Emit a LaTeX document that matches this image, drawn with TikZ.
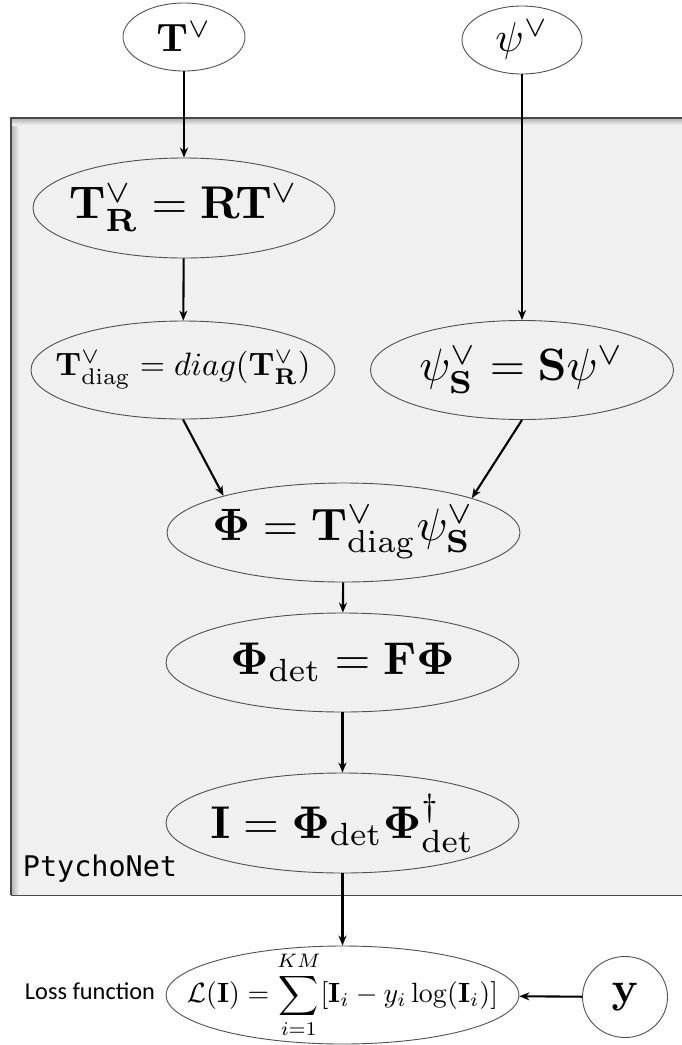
\documentclass[tikz,border=0pt]{standalone}
\usepackage{amsmath}
\usepackage[no-math]{fontspec}
\usepackage{graphicx}
\usetikzlibrary{shapes.geometric,arrows.meta}
\newfontfamily\carl{Carlito}
\newfontfamily\dmono{DejaVu Sans Mono}
\definecolor{boxfill}{HTML}{F0F0F0}
\definecolor{boxedge}{HTML}{484848}
\definecolor{elledge}{HTML}{505050}
\begin{document}
\begin{tikzpicture}[x=1pt,y=-1pt,
  ell/.style={ellipse, draw=elledge, line width=0.9pt, inner sep=0pt},
  arr/.style={-{Stealth[length=10pt,width=8pt]}, line width=2.1pt, black},
  lbl/.style={inner sep=0pt}]
\useasboundingbox (0,0) rectangle (681,1045);
% PtychoNet box
\fill[boxfill] (11,118) rectangle (690,895);
\shade[left color=gray!55, right color=boxfill] (12,119) rectangle (19,895);
\shade[top color=gray!55, bottom color=boxfill] (12,119) rectangle (690,125);
\draw[boxedge, line width=2.5pt] (11,895) -- (11,118) -- (690,118);
\draw[boxedge, line width=1pt] (11,895) -- (690,895);
% nodes
\node[ell, fill=white, minimum width=122, minimum height=68,
  label={[lbl,name=tvl]center:\resizebox{55pt}{!}{$\mathbf{T}^{\vee}$}}] (tv) at (184,37) {};
\node[ell, fill=white, minimum width=120, minimum height=68,
  label={[lbl,name=psivl]center:\resizebox{53pt}{!}{$\psi^{\vee}$}}] (psiv) at (522,40) {};
\node[ell, minimum width=302, minimum height=100,
  label={[lbl,name=trl]center:\resizebox{230pt}{!}{$\mathbf{T}^{\vee}_{\mathbf{R}} = \mathbf{R}\mathbf{T}^{\vee}$}}] (tr) at (184,208) {};
\node[ell, minimum width=304, minimum height=98,
  label={[lbl,name=tdiagl]center:\resizebox{255pt}{!}{$\mathbf{T}^{\vee}_{\mathrm{diag}} = diag(\mathbf{T}^{\vee}_{\mathbf{R}})$}}] (tdiag) at (183,370) {};
\node[ell, minimum width=303, minimum height=99,
  label={[lbl,name=psisl]center:\resizebox{205pt}{!}{$\psi^{\vee}_{\mathbf{S}} = \mathbf{S}\psi^{\vee}$}}] (psis) at (522,370) {};
\node[ell, minimum width=353, minimum height=99,
  label={[lbl,name=phil]center:\resizebox{262pt}{!}{$\mathbf{\Phi} = \mathbf{T}^{\vee}_{\mathrm{diag}}\psi^{\vee}_{\mathbf{S}}$}}] (phi) at (343.5,532.5) {};
\node[ell, minimum width=353, minimum height=99,
  label={[lbl,name=phidetl]center:\resizebox{224pt}{!}{$\mathbf{\Phi}_{\mathrm{det}} = \mathbf{F}\mathbf{\Phi}$}}] (phidet) at (342.5,662.5) {};
\node[ell, minimum width=353, minimum height=100,
  label={[lbl,name=iintl]center:\resizebox{264pt}{!}{$\mathbf{I} = \mathbf{\Phi}_{\mathrm{det}}\mathbf{\Phi}^{\dagger}_{\mathrm{det}}$}}] (iint) at (342.5,823) {};
\node[ell, fill=white, minimum width=353, minimum height=98,
  label={[lbl,name=lossl]center:\resizebox{311pt}{!}{$\displaystyle \mathcal{L}(\mathbf{I}) = \sum_{i=1}^{KM}[\mathbf{I}_i - y_i\log(\mathbf{I}_i)]$}}] (loss) at (342.5,995) {};
\node[ell, fill=white, minimum width=85, minimum height=81,
  label={[lbl,name=ycl]center:\resizebox{27pt}{!}{$\mathbf{y}$}}] (yc) at (625,997) {};
\node[lbl] (lf) at (90,991) {\resizebox{130pt}{!}{\carl Loss function}};
\node[lbl] (pn) at (100,869) {\resizebox{154pt}{!}{\dmono PtychoNet}};
% connectors
\draw[arr] (tv) -- (tr);
\draw[arr] (tr) -- (tdiag);
\draw[arr] (psiv) -- (psis);
\draw[arr] (tdiag.south) -- (phi.163);
\draw[arr] (psis.south) -- (phi.15);
\draw[arr] (phi) -- (phidet);
\draw[arr] (phidet) -- (iint);
\draw[arr] (iint) -- (loss);
\draw[arr] (yc) -- (loss);
\end{tikzpicture}
\end{document}
